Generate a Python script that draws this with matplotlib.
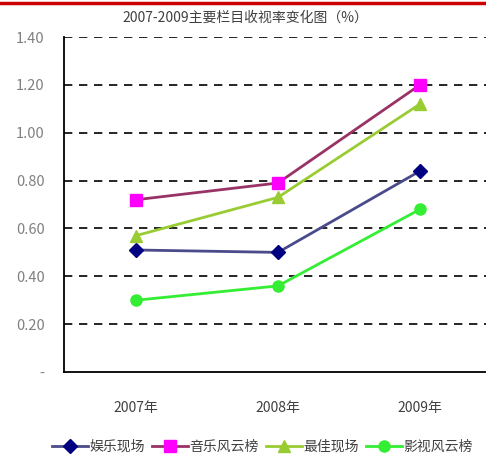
import matplotlib
matplotlib.use("Agg")
import matplotlib.pyplot as plt
from matplotlib.lines import Line2D

plt.rcParams["font.family"] = ["Noto Sans CJK SC", "DejaVu Sans"]

# data
years = ["2007年", "2008年", "2009年"]
yule = [0.51, 0.50, 0.84]        # 娱乐现场
yinyue = [0.72, 0.79, 1.20]      # 音乐风云榜
zuijia = [0.57, 0.73, 1.12]      # 最佳现场
yingshi = [0.30, 0.36, 0.68]     # 影视风云榜
yticks = [0.0, 0.2, 0.4, 0.6, 0.8, 1.0, 1.2, 1.4]
ytick_labels = ["-", "0.20", "0.40", "0.60", "0.80", "1.00", "1.20", "1.40"]

series = [
    ("娱乐现场", yule, "#4b4b8c", "#000080", "D", 7),
    ("音乐风云榜", yinyue, "#993366", "#ff00ff", "s", 8),
    ("最佳现场", zuijia, "#99cc33", "#99cc33", "^", 8),
    ("影视风云榜", yingshi, "#33ee33", "#33ee33", "o", 8),
]

fig = plt.figure(figsize=(4.86, 4.63), dpi=100)
ax = fig.add_axes([0.1317, 0.1965, 0.8683, 0.7235])

# red rule across the top
fig.add_artist(Line2D([0, 1], [0.993, 0.993], color="#cc0000", linewidth=2.5,
                      transform=fig.transFigure))

x = list(range(len(years)))
handles = []
for name, vals, lc, mc, mk, ms in series:
    (ln,) = ax.plot(x, vals, color=lc, linewidth=2, marker=mk, markersize=ms,
                    markerfacecolor=mc, markeredgecolor=mc, label=name, zorder=3)
    handles.append(ln)

ax.set_xlim(-0.507, 2.465)
ax.set_ylim(0, 1.4)
ax.set_yticks(yticks)
ax.set_yticklabels(ytick_labels, color="#808080", fontsize=10.5)
ax.set_xticks(x)
ax.set_xticklabels(years, color="#404040", fontsize=10)
ax.tick_params(axis="y", length=0, pad=14)
ax.tick_params(axis="x", length=0, pad=21)

for v in yticks[1:]:
    ax.axhline(v, color="black", linewidth=1.2, linestyle=(0, (5, 4)), zorder=1)

for s in ["top", "right"]:
    ax.spines[s].set_visible(False)
ax.spines["left"].set_linewidth(1.3)
ax.spines["bottom"].set_linewidth(1.3)

fig.text(0.505, 0.962, "2007-2009主要栏目收视率变化图（%）", ha="center", va="center",
         fontsize=10, color="#404040")

fig.legend(handles, [h.get_label() for h in handles], loc="center",
           bbox_to_anchor=(0.54, 0.035), ncol=4, frameon=False, fontsize=10,
           handlelength=2.6, handletextpad=0.1, columnspacing=0.5,
           labelcolor="#404040")

fig.savefig("out.png", dpi=100)
